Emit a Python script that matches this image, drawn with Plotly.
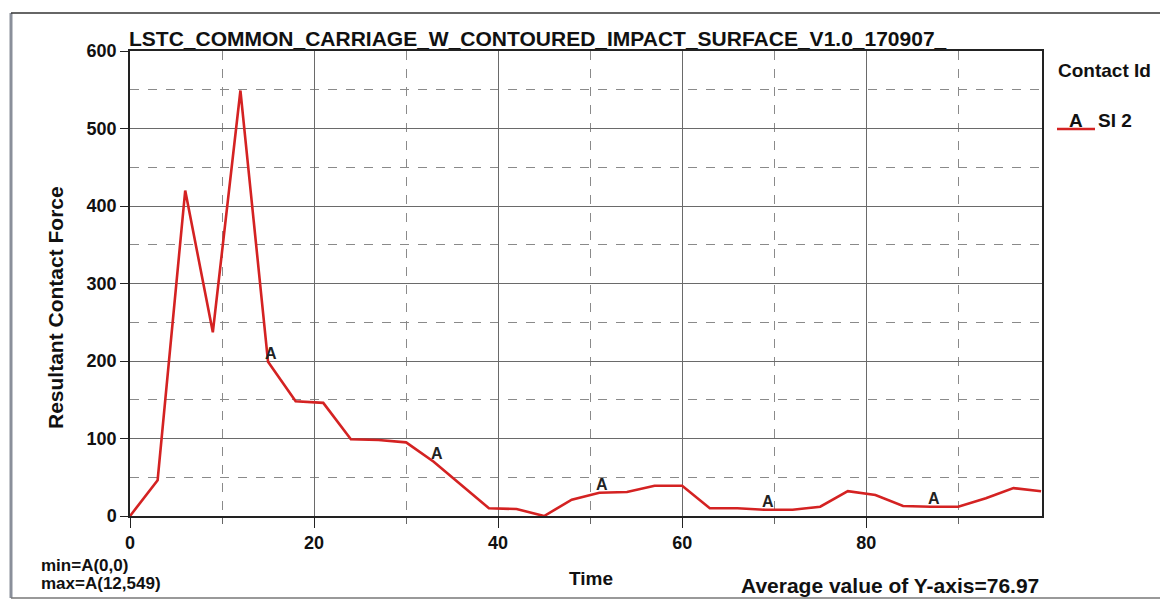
import plotly.graph_objects as go

# Contact force history for contact interface A (SI 2)
time = [0, 3, 6, 9, 12, 15, 18, 21, 24, 27, 30, 33, 36, 39, 42, 45, 48, 51,
        54, 57, 60, 63, 66, 69, 72, 75, 78, 81, 84, 87, 90, 93, 96, 99]
force = [0, 46, 420, 237, 549, 199, 148, 146, 99, 98, 95, 70, 40, 10, 9, 0, 21, 30,
         31, 39, 39, 10, 10, 8, 8, 12, 32, 27, 13, 12, 12, 23, 36, 32]

# Times at which the curve carries its "A" identifier
label_times = [15, 33, 51, 69, 87]

x_ticks = [0, 20, 40, 60, 80]
y_ticks = [0, 100, 200, 300, 400, 500, 600]

title_text = "LSTC_COMMON_CARRIAGE_W_CONTOURED_IMPACT_SURFACE_V1.0_170907_"
min_text = "min=A(0,0)"
max_text = "max=A(12,549)"
avg_text = "Average value of Y-axis=76.97"

W, H = 1160, 601
L, R, T, B = 130, 118, 51, 85
PW, PH = W - L - R, H - T - B
FONT = "Liberation Sans, Arial, sans-serif"
RED = "#d42222"


def px(x):
    return (x - L) / PW


def py(y):
    return (H - B - y) / PH


fig = go.Figure()
fig.add_trace(go.Scatter(x=time, y=force, mode="lines",
                         line=dict(color=RED, width=2.6), showlegend=False,
                         hoverinfo="skip"))

annotations = []
for t in label_times:
    v = force[time.index(t)]
    annotations.append(dict(x=t, y=v, xref="x", yref="y", text="<b>A</b>", showarrow=False,
                            xanchor="center", yanchor="bottom", xshift=3, yshift=-2,
                            font=dict(family=FONT, size=16, color="#222")))

annotations += [
    dict(x=px(127), y=py(39), xref="paper", yref="paper", text="<b>" + title_text + "</b>",
         showarrow=False, xanchor="left", yanchor="middle",
         font=dict(family=FONT, size=21, color="#111")),
    dict(x=px(1056), y=py(70), xref="paper", yref="paper", text="<b>Contact Id</b>",
         showarrow=False, xanchor="left", yanchor="middle",
         font=dict(family=FONT, size=19, color="#111")),
    dict(x=px(1076), y=py(120), xref="paper", yref="paper", text="<b>A</b>",
         showarrow=False, xanchor="center", yanchor="middle",
         font=dict(family=FONT, size=19, color="#111")),
    dict(x=px(1096), y=py(120), xref="paper", yref="paper", text="<b>SI 2</b>",
         showarrow=False, xanchor="left", yanchor="middle",
         font=dict(family=FONT, size=19, color="#111")),
    dict(x=px(39), y=py(565), xref="paper", yref="paper", text="<b>" + min_text + "</b>",
         showarrow=False, xanchor="left", yanchor="middle",
         font=dict(family=FONT, size=17, color="#111")),
    dict(x=px(39), y=py(583), xref="paper", yref="paper", text="<b>" + max_text + "</b>",
         showarrow=False, xanchor="left", yanchor="middle",
         font=dict(family=FONT, size=17, color="#111")),
    dict(x=px(1041), y=py(585), xref="paper", yref="paper", text="<b>" + avg_text + "</b>",
         showarrow=False, xanchor="right", yanchor="middle",
         font=dict(family=FONT, size=21, color="#111")),
    dict(x=px(591), y=py(578), xref="paper", yref="paper", text="<b>Time</b>",
         showarrow=False, xanchor="center", yanchor="middle",
         font=dict(family=FONT, size=19, color="#111")),
    dict(x=px(55), y=py(308), xref="paper", yref="paper", text="<b>Resultant Contact Force</b>",
         showarrow=False, textangle=-90, xanchor="center", yanchor="middle",
         font=dict(family=FONT, size=21, color="#111")),
]

shapes = [
    # legend line sample
    dict(type="line", xref="paper", yref="paper", x0=px(1057), x1=px(1095),
         y0=py(129), y1=py(129), line=dict(color=RED, width=2.5)),
    # window frame
    dict(type="line", xref="paper", yref="paper", x0=px(11), x1=px(11),
         y0=py(13), y1=py(598), line=dict(color="#8a8f9a", width=3)),
    dict(type="line", xref="paper", yref="paper", x0=px(11), x1=px(1160),
         y0=py(13), y1=py(13), line=dict(color="#333", width=1.5)),
    dict(type="line", xref="paper", yref="paper", x0=px(11), x1=px(1160),
         y0=py(598), y1=py(598), line=dict(color="#777", width=1.5)),
]

fig.update_layout(
    width=W, height=H,
    margin=dict(l=L, r=R, t=T, b=B),
    paper_bgcolor="white", plot_bgcolor="white",
    showlegend=False,
    annotations=annotations,
    shapes=shapes,
    font=dict(family=FONT, color="#111"),
)

fig.update_xaxes(
    range=[0, 99.1], tickvals=x_ticks, ticktext=[f"<b>{v}</b>" for v in x_ticks],
    tickfont=dict(family=FONT, size=18, color="#111"),
    ticks="outside", ticklen=10, tickcolor="#222", tickwidth=1.2,
    showgrid=True, gridcolor="#6a6a6a", gridwidth=1,
    minor=dict(tickvals=[10, 30, 50, 70, 90], showgrid=True, gridcolor="#8a8a8a",
               griddash="dash", gridwidth=1, ticks="outside", ticklen=6, tickcolor="#666"),
    showline=True, linecolor="#222", linewidth=1.5, mirror=True,
    zeroline=False, fixedrange=True,
)
fig.update_yaxes(
    range=[0, 600], tickvals=y_ticks, ticktext=[f"<b>{v}</b>" for v in y_ticks],
    tickfont=dict(family=FONT, size=18, color="#111"),
    ticks="outside", ticklen=8, tickcolor="#222", tickwidth=1.2,
    showgrid=True, gridcolor="#6a6a6a", gridwidth=1,
    minor=dict(tickvals=[50, 150, 250, 350, 450, 550], showgrid=True, gridcolor="#8a8a8a",
               griddash="dash", gridwidth=1),
    showline=True, linecolor="#222", linewidth=1.5, mirror=True,
    zeroline=False, fixedrange=True,
)

fig.write_html("out.html")
